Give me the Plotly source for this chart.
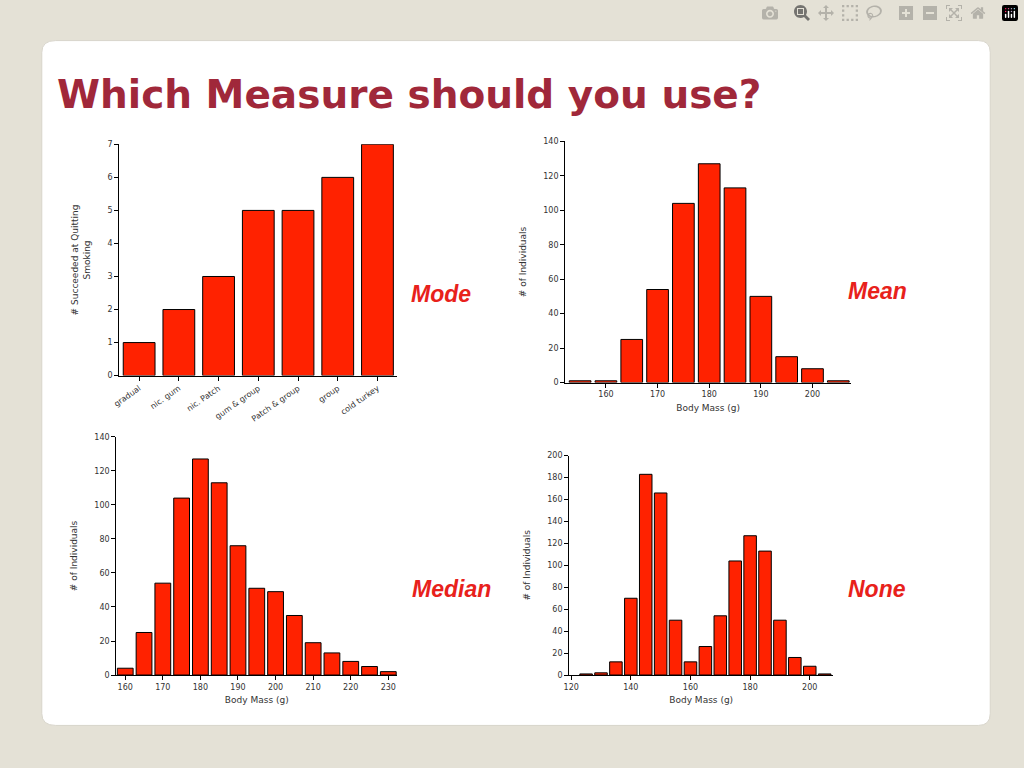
import plotly.graph_objects as go

cats1 = ["gradual", "nic. gum", "nic. Patch", "gum & group", "Patch & group", "group", "cold turkey"]
vals1 = [1, 2, 3, 5, 5, 6, 7]

x2 = [155, 160, 165, 170, 175, 180, 185, 190, 195, 200, 205]
vals2 = [1, 1, 25, 54, 104, 127, 113, 50, 15, 8, 1]

x3 = [160, 165, 170, 175, 180, 185, 190, 195, 200, 205, 210, 215, 220, 225, 230]
vals3 = [4, 25, 54, 104, 127, 113, 76, 51, 49, 35, 19, 13, 8, 5, 2]

x4 = [125, 130, 135, 140, 145, 150, 155, 160, 165, 170, 175, 180, 185, 190, 195, 200, 205]
vals4 = [1, 2, 12, 70, 183, 166, 50, 12, 26, 54, 104, 127, 113, 50, 16, 8, 1]

BAR = "#ff2200"
fig = go.Figure()
mk = dict(color=BAR, line=dict(color="black", width=1))
fig.add_trace(go.Bar(x=cats1, y=vals1, marker=mk, xaxis="x", yaxis="y", width=0.8))
fig.add_trace(go.Bar(x=x2, y=vals2, marker=mk, xaxis="x2", yaxis="y2", width=4.2))
fig.add_trace(go.Bar(x=x3, y=vals3, marker=mk, xaxis="x3", yaxis="y3", width=4.2))
fig.add_trace(go.Bar(x=x4, y=vals4, marker=mk, xaxis="x4", yaxis="y4", width=4.2))

ax = dict(showline=True, linecolor="black", linewidth=1, ticks="outside", ticklen=4,
          tickcolor="black", showgrid=False, zeroline=False,
          tickfont=dict(family="DejaVu Sans", size=8, color="#333"))
tf = dict(family="DejaVu Sans", size=9, color="#333")

fig.update_layout(
    width=1024, height=768, margin=dict(l=0, r=0, t=0, b=0),
    paper_bgcolor="#e4e1d6", plot_bgcolor="white", showlegend=False,
    xaxis=dict(ax, domain=[0.1104, 0.3838], anchor="y", range=[-0.5, 6.5], tickangle=-35),
    yaxis=dict(ax, domain=[0.5104, 0.8151], anchor="x", range=[0, 7], dtick=1,
               title=dict(text="# Succeeded at Quitting<br>Smoking", font=tf)),
    xaxis2=dict(ax, domain=[0.5488, 0.8301], anchor="y2", range=[152.1, 207.5], dtick=10,
                title=dict(text="Body Mass (g)", font=tf, standoff=6)),
    yaxis2=dict(ax, domain=[0.5013, 0.8190], anchor="x2", range=[0, 140], dtick=20,
                title=dict(text="# of Individuals", font=tf)),
    xaxis3=dict(ax, domain=[0.1074, 0.3838], anchor="y3", range=[157.6, 232.4], dtick=10,
                title=dict(text="Body Mass (g)", font=tf, standoff=6)),
    yaxis3=dict(ax, domain=[0.1159, 0.4297], anchor="x3", range=[0, 140], dtick=20,
                title=dict(text="# of Individuals", font=tf)),
    xaxis4=dict(ax, domain=[0.5527, 0.8125], anchor="y4", range=[119.3, 207.9], dtick=20,
                title=dict(text="Body Mass (g)", font=tf, standoff=6)),
    yaxis4=dict(ax, domain=[0.1159, 0.4049], anchor="x4", range=[0, 200], dtick=20,
                title=dict(text="# of Individuals", font=tf)),
    shapes=[
        dict(type="path", xref="paper", yref="paper", layer="below",
             path="M 0.0479 0.0495 L 0.9551 0.0495 Q 0.9668 0.0495 0.9668 0.0651 L 0.9668 0.9362 Q 0.9668 0.9518 0.9551 0.9518 L 0.0479 0.9518 Q 0.0342 0.9518 0.0342 0.9362 L 0.0342 0.0651 Q 0.0342 0.0495 0.0479 0.0495 Z",
             fillcolor="white", line=dict(color="#d8d5cb", width=1)),
    ],
)

def lab(t, x, y):
    fig.add_annotation(text="<b><i>%s</i></b>" % t, x=x / 1024, y=1 - y / 768, xref="paper", yref="paper",
                       xanchor="center", yanchor="middle",
                       showarrow=False, font=dict(family="Liberation Sans", size=23, color="#e8211b"))

fig.add_annotation(text="<b>Which Measure should you use?</b>", x=48 / 1024, y=1 - 92 / 768,
                   xref="paper", yref="paper", xanchor="left", yanchor="middle", showarrow=False,
                   font=dict(family="DejaVu Sans", size=39, color="#a0283a"))
lab("Mode", 437, 293)
lab("Mean", 876, 290)
lab("Median", 448, 592)
lab("None", 876, 592)

fig.write_html("out.html", post_script="document.body.style.margin='0';document.body.style.overflow='hidden';")
